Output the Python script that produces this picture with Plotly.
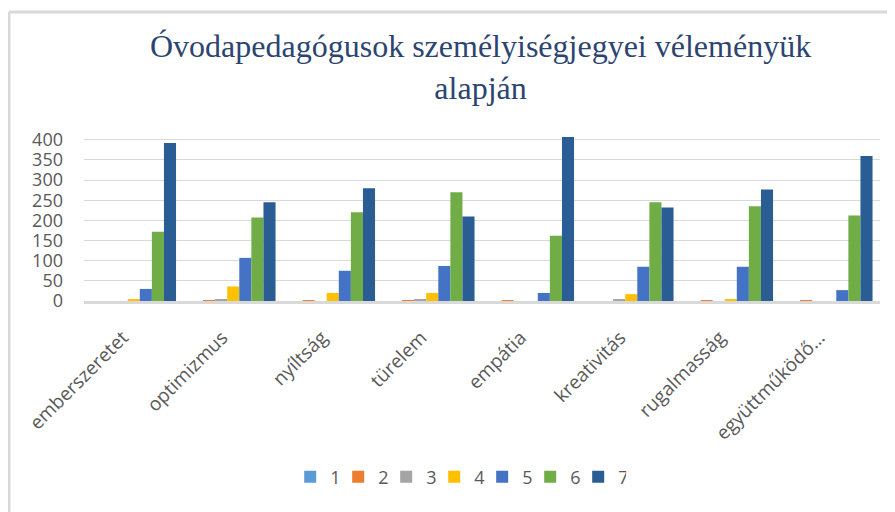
'''
Óvodapedagógusok személyiségjegyei – grouped bar chart (ratings 1-7).
'''

import plotly.graph_objects as go

categories = ['emberszeretet', 'optimizmus', 'nyíltság', 'türelem',
              'empátia', 'kreativitás', 'rugalmasság', 'együttműködő…']

series_names = ['1', '2', '3', '4', '5', '6', '7']

values_1 = [0, 0, 0, 0, 0, 0, 0, 0]
values_2 = [0, 2, 2, 2, 2, 0, 2, 2]
values_3 = [0, 5, 0, 5, 0, 5, 0, 0]
values_4 = [5, 36, 20, 20, 0, 17, 5, 0]
values_5 = [30, 107, 75, 87, 20, 85, 85, 27]
values_6 = [172, 207, 220, 270, 162, 245, 235, 212]
values_7 = [392, 245, 280, 210, 407, 232, 277, 360]

colors = ['#5B9BD5', '#ED7D31', '#A5A5A5', '#FFC000',
          '#4472C4', '#70AD47', '#2A5D93']

W, H = 895, 512
# the page body adds an 8px offset, margins compensate for it
ML, MR, MT, MB = 76, 23, 127, 219


def main() -> None:
    fig = go.Figure()

    all_values = [values_1, values_2, values_3, values_4,
                  values_5, values_6, values_7]
    for name, vals, col in zip(series_names, all_values, colors):
        fig.add_trace(go.Bar(
            x=categories,
            y=vals,
            name=name,
            marker={'color': col, 'line': {'width': 0}},
        ))

    # chart frame (top and left edges visible in the original)
    pw = W - ML - MR
    ph = H - MT - MB
    x_left = (1 - ML) / pw
    y_top = (H - MB - 4) / ph
    y_bot = (H - MB - H) / ph
    x_right = (W - ML) / pw
    fig.add_shape(type='line', xref='paper', yref='paper',
                  x0=x_left, x1=x_right, y0=y_top, y1=y_top,
                  line={'color': '#D9D9D9', 'width': 3})
    fig.add_shape(type='line', xref='paper', yref='paper',
                  x0=x_left, x1=x_left, y0=y_top, y1=y_bot,
                  line={'color': '#D9D9D9', 'width': 3})

    fig.update_layout(
        title={
            'text': 'Óvodapedagógusok személyiségjegyei véleményük<br>alapján',
            'font': {'family': 'Liberation Serif', 'size': 32, 'color': '#2B4570'},
            'x': 0.528, 'xanchor': 'center',
            'y': 0.904, 'yanchor': 'top',
        },
        barmode='group',
        bargap=0.15,
        bargroupgap=0,
        width=W,
        height=H,
        margin={'l': ML, 'r': MR, 't': MT, 'b': MB, 'autoexpand': False},
        plot_bgcolor='white',
        paper_bgcolor='white',
        font={'family': 'Open Sans', 'color': '#595959'},
        xaxis={
            'tickangle': -45,
            'tickfont': {'size': 19, 'color': '#595959'},
            'showline': True,
            'linecolor': '#D9D9D9',
            'linewidth': 3,
            'ticks': '',
            'ticklabelstandoff': 15,
            'ticklabelshift': -11,
            'automargin': False,
        },
        yaxis={
            'range': [0, 412],
            'tickvals': [0, 50, 100, 150, 200, 250, 300, 350, 400],
            'tickfont': {'size': 18, 'color': '#595959'},
            'showgrid': True,
            'gridcolor': '#D9D9D9',
            'gridwidth': 1,
            'zeroline': False,
            'showline': False,
            'ticklabelstandoff': 20,
            'automargin': False,
        },
        showlegend=True,
        legend={
            'orientation': 'h',
            'xref': 'container', 'yref': 'container',
            'x': 0.503, 'xanchor': 'center',
            'y': 0.084, 'yanchor': 'middle',
            'font': {'size': 18, 'color': '#595959'},
            'itemwidth': 30,
            'entrywidth': 3,
        },
    )

    fig.write_html('out.html')


if __name__ == '__main__':
    main()
